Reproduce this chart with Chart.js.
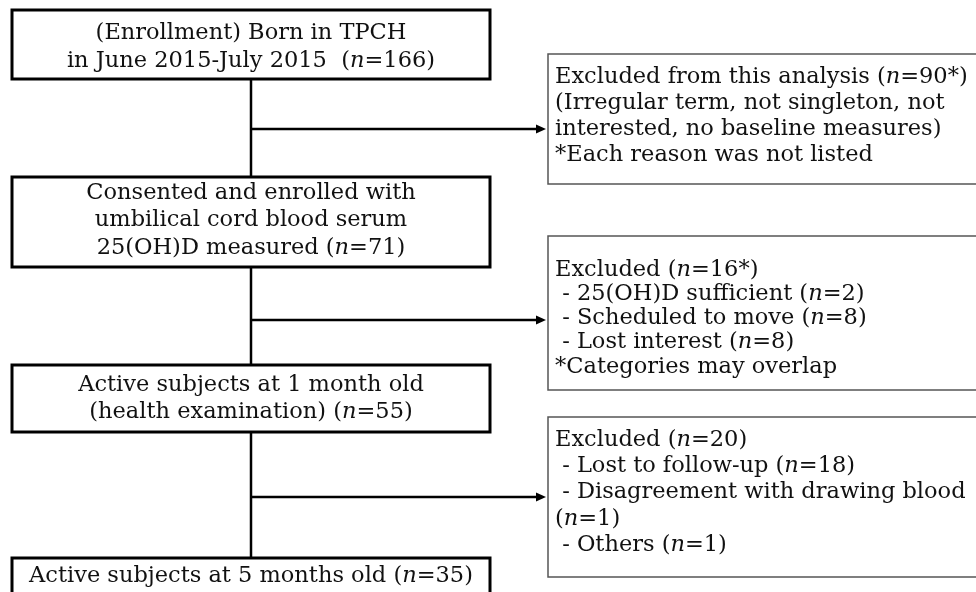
<!DOCTYPE html>
<html>
<head>
<meta charset="utf-8">
<script src="https://cdn.jsdelivr.net/npm/chart.js@4"></script>
<style>
  body { margin: 0; background: #fff; }
</style>
</head>
<body>
<canvas id="flow" width="976" height="592"></canvas>
<script>
// numbers in the flow
const flowN = [166, 71, 55, 35];
const exclN = ['90*', '16*', 20];

const reasons2 = ['25(OH)D sufficient', 'Scheduled to move', 'Lost interest'];
const counts2 = [2, 8, 8];
const reasons3 = ['Lost to follow-up', 'Disagreement with drawing blood', 'Others'];
const counts3 = [18, 1, 1];

// texts of the boxes (built from the numbers above)
const flowText = [
  ['(Enrollment) Born in TPCH', 'in June 2015-July 2015  (n=' + flowN[0] + ')'],
  ['Consented and enrolled with', 'umbilical cord blood serum', '25(OH)D measured (n=' + flowN[1] + ')'],
  ['Active subjects at 1 month old', '(health examination) (n=' + flowN[2] + ')'],
  ['Active subjects at 5 months old (n=' + flowN[3] + ')']
];
const exclText = [
  ['Excluded from this analysis (n=' + exclN[0] + ')',
   '(Irregular term, not singleton, not',
   'interested, no baseline measures)',
   '*Each reason was not listed'],
  ['Excluded (n=' + exclN[1] + ')',
   ' - ' + reasons2[0] + ' (n=' + counts2[0] + ')',
   ' - ' + reasons2[1] + ' (n=' + counts2[1] + ')',
   ' - ' + reasons2[2] + ' (n=' + counts2[2] + ')',
   '*Categories may overlap'],
  ['Excluded (n=' + exclN[2] + ')',
   ' - ' + reasons3[0] + ' (n=' + counts3[0] + ')',
   ' - ' + reasons3[1],
   '(n=' + counts3[1] + ')',
   ' - ' + reasons3[2] + ' (n=' + counts3[2] + ')']
];

// layout (in axis units, 0..976 x 0..592)
const flowBoxes = [
  {x0: 12, x1: 490, y0: 10, y1: 79, lines: [33, 61]},
  {x0: 12, x1: 490, y0: 177, y1: 267, lines: [193, 220, 248]},
  {x0: 12, x1: 490, y0: 365, y1: 432, lines: [385, 412]},
  {x0: 12, x1: 490, y0: 558, y1: 620, lines: [576]}
];
const exclBoxes = [
  {x0: 548, x1: 990, y0: 54, y1: 184, lines: [77, 103, 129, 155]},
  {x0: 548, x1: 990, y0: 236, y1: 390, lines: [270, 294, 318, 342, 367]},
  {x0: 548, x1: 990, y0: 417, y1: 577, lines: [440, 466, 492, 519, 545]}
];
const trunkX = 251;
const arrowY = [129, 320, 497];

const FONT = '22.5px "DejaVu Serif"';
const FONT_I = 'italic 22.5px "DejaVu Serif"';

// split "(n=" so the n is italic
function runs(str) {
  const parts = str.split(/(?<=\()n(?==)/);
  const out = [];
  parts.forEach((p, i) => {
    if (i > 0) out.push({t: 'n', it: true});
    out.push({t: p, it: false});
  });
  return out;
}

function drawRich(ctx, str, x, y, align) {
  const r = runs(str);
  let w = 0;
  r.forEach(s => { ctx.font = s.it ? FONT_I : FONT; s.w = ctx.measureText(s.t).width; w += s.w; });
  let cx = align === 'center' ? x - w / 2 : x;
  ctx.textAlign = 'left';
  ctx.textBaseline = 'middle';
  r.forEach(s => {
    ctx.font = s.it ? FONT_I : FONT;
    ctx.fillText(s.t, cx, y);
    cx += s.w;
  });
}

const flowPlugin = {
  id: 'flow',
  afterDatasetsDraw(chart) {
    const ctx = chart.ctx;
    const xs = chart.scales.x, ys = chart.scales.y;
    const px = v => xs.getPixelForValue(v);
    const py = v => ys.getPixelForValue(v);
    ctx.save();
    ctx.fillStyle = '#000';

    // trunk lines between main boxes
    ctx.strokeStyle = '#000';
    ctx.lineWidth = 2.5;
    for (let i = 0; i < flowBoxes.length - 1; i++) {
      ctx.beginPath();
      ctx.moveTo(px(trunkX), py(flowBoxes[i].y1));
      ctx.lineTo(px(trunkX), py(flowBoxes[i + 1].y0));
      ctx.stroke();
    }
    // side arrows
    arrowY.forEach((y, i) => {
      const tip = px(exclBoxes[i].x0 - 2);
      ctx.beginPath();
      ctx.moveTo(px(trunkX), py(y));
      ctx.lineTo(tip - 6, py(y));
      ctx.stroke();
      ctx.beginPath();
      ctx.moveTo(tip, py(y));
      ctx.lineTo(tip - 10, py(y) - 4.5);
      ctx.lineTo(tip - 10, py(y) + 4.5);
      ctx.closePath();
      ctx.fill();
    });

    // main boxes
    flowBoxes.forEach((b, i) => {
      ctx.fillStyle = '#fff';
      ctx.fillRect(px(b.x0), py(b.y0), px(b.x1) - px(b.x0), py(b.y1) - py(b.y0));
      ctx.strokeStyle = '#000';
      ctx.lineWidth = 3;
      ctx.strokeRect(px(b.x0), py(b.y0), px(b.x1) - px(b.x0), py(b.y1) - py(b.y0));
      ctx.fillStyle = '#111';
      const cx = (b.x0 + b.x1) / 2;
      flowText[i].forEach((t, j) => drawRich(ctx, t, px(cx), py(b.lines[j]), 'center'));
    });

    // exclusion boxes
    exclBoxes.forEach((b, i) => {
      ctx.strokeStyle = '#555';
      ctx.lineWidth = 1.5;
      ctx.strokeRect(px(b.x0), py(b.y0), px(b.x1) - px(b.x0), py(b.y1) - py(b.y0));
      ctx.fillStyle = '#111';
      exclText[i].forEach((t, j) => drawRich(ctx, t, px(b.x0 + 7), py(b.lines[j]), 'left'));
    });
    ctx.restore();
  }
};

new Chart(document.getElementById('flow'), {
  type: 'scatter',
  data: {
    datasets: [{
      data: flowBoxes.map(b => ({x: (b.x0 + b.x1) / 2, y: (b.y0 + b.y1) / 2})),
      pointRadius: 0
    }]
  },
  options: {
    responsive: false,
    animation: false,
    layout: {padding: 0},
    plugins: {legend: {display: false}, tooltip: {enabled: false}},
    scales: {
      x: {type: 'linear', min: 0, max: 976, display: false},
      y: {type: 'linear', min: 0, max: 592, reverse: true, display: false}
    }
  },
  plugins: [flowPlugin]
});
</script>
</body>
</html>
